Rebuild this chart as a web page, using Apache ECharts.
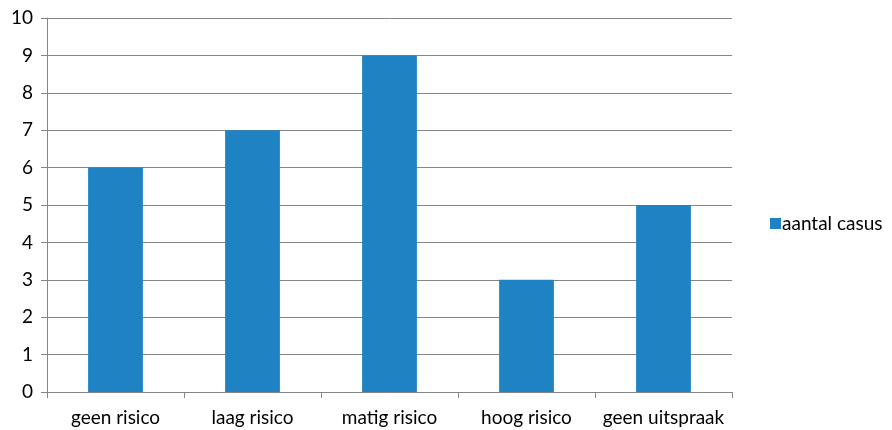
<!DOCTYPE html>
<html>
<head>
<meta charset="utf-8">
<script src="https://cdn.jsdelivr.net/npm/echarts@6/dist/echarts.min.js"></script>
<style>
  html, body { margin: 0; padding: 0; background: #fff; }
  #chart { width: 892px; height: 430px; }
</style>
</head>
<body>
<div id="chart"></div>
<script>
// categorieën en waarden
var categories = ['geen risico', 'laag risico', 'matig risico', 'hoog risico', 'geen uitspraak'];
var aantalCasus = [6, 7, 9, 3, 5];
var seriesName = 'aantal casus';

var fontFam = 'Lato, "Open Sans", sans-serif';
var axisGray = '#868686';

var option = {
    animation: false,
    grid: { left: 47, right: 160, top: 18, bottom: 38 },
    legend: {
        data: [{ name: seriesName, icon: 'rect' }],
        orient: 'vertical',
        left: 765,
        top: 209,
        itemWidth: 11,
        itemHeight: 11,
        itemGap: 4,
        textStyle: { fontFamily: fontFam, fontSize: 19, color: '#000', padding: [0, 0, 0, -4] }
    },
    xAxis: {
        type: 'category',
        data: categories,
        axisLine: { lineStyle: { color: axisGray, width: 1 } },
        axisTick: { show: true, length: 6, lineStyle: { color: axisGray } },
        axisLabel: { fontFamily: fontFam, fontSize: 19, color: '#000', margin: 16, interval: 0 }
    },
    yAxis: {
        type: 'value',
        min: 0,
        max: 10,
        interval: 1,
        axisLine: { show: true, lineStyle: { color: axisGray, width: 1 } },
        axisTick: { show: true, length: 6, lineStyle: { color: axisGray } },
        splitLine: { lineStyle: { color: axisGray, width: 1 } },
        axisLabel: { fontFamily: fontFam, fontSize: 19, color: '#000', margin: 14 }
    },
    series: [
        {
            name: seriesName,
            type: 'bar',
            data: aantalCasus,
            barWidth: '40%',
            itemStyle: { color: '#1f82c3' }
        }
    ]
};

var chart = echarts.init(document.getElementById('chart'));
chart.setOption(option);
</script>
</body>
</html>
